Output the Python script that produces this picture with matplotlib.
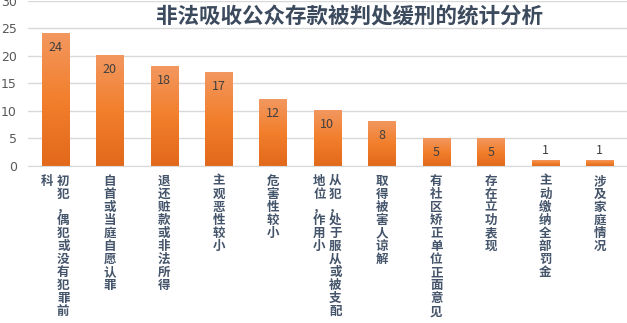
import numpy as np
import matplotlib
matplotlib.use("Agg")
import matplotlib.pyplot as plt
from matplotlib.colors import LinearSegmentedColormap

plt.rcParams["font.family"] = ["Noto Sans CJK SC", "DejaVu Sans"]

# data
categories = [
    "初犯，偶犯或没有犯罪前科",
    "自首或当庭自愿认罪",
    "退还赃款或非法所得",
    "主观恶性较小",
    "危害性较小",
    "从犯，处于服从或被支配地位，作用小",
    "取得被害人谅解",
    "有社区矫正单位正面意见",
    "存在立功表现",
    "主动缴纳全部罚金",
    "涉及家庭情况",
]
counts = [24, 20, 18, 17, 12, 10, 8, 5, 5, 1, 1]
yticks = [0, 5, 10, 15, 20, 25, 30]
title = "非法吸收公众存款被判处缓刑的统计分析"

TEXT = "#44546a"
GRID = "#d9d9d9"
COL_LEN = 11  # characters per vertical column

fig = plt.figure(figsize=(6.27, 3.23), dpi=100)
ax = fig.add_axes([0.0447, 0.486, 0.955, 0.512])

x = np.arange(len(categories))
bars = ax.bar(x, counts, width=0.5, color="none", edgecolor="none", zorder=2)

# vertical orange gradient inside each bar
cmap = LinearSegmentedColormap.from_list("og", ["#e2691b", "#f27f2c", "#f2975f"])
grad = np.linspace(0, 1, 64).reshape(-1, 1)
for b in bars:
    x0, w, h = b.get_x(), b.get_width(), b.get_height()
    ax.imshow(grad, cmap=cmap, origin="lower", aspect="auto",
              extent=(x0, x0 + w, 0, h), zorder=2, interpolation="bilinear")

# value labels: inside the top, or above when the bar is too short
for xi, v in zip(x, counts):
    dy = -10 if v >= 3 else 7
    ax.annotate(str(v), (xi, v), xytext=(0, dy), textcoords="offset points",
                ha="center", va="center", fontsize=9, color="#404040", zorder=3)

ax.set_xlim(-0.5, len(categories) - 0.5)
ax.set_ylim(0, 30)
ax.set_yticks(yticks)
ax.set_yticklabels([str(t) for t in yticks], fontsize=9, color="#595959",
                   family="DejaVu Sans")
ax.tick_params(axis="y", length=0, pad=8)
ax.set_xticks([])
ax.yaxis.grid(True, color=GRID, linewidth=1)
ax.set_axisbelow(True)
for s in ["top", "right", "left"]:
    ax.spines[s].set_visible(False)
ax.spines["bottom"].set_color(GRID)

# stacked vertical category labels, columns run right-to-left
step = 9.4
for xi, lab in zip(x, categories):
    cols = [lab[i:i + COL_LEN] for i in range(0, len(lab), COL_LEN)]
    n = len(cols)
    for c, col in enumerate(cols):
        dx = ((n - 1) / 2 - c) * 11.5
        for k, ch in enumerate(col):
            ax.annotate(ch, (xi, 0), xycoords=("data", "axes fraction"),
                        xytext=(dx, -11 - k * step), textcoords="offset points",
                        ha="center", va="center", fontsize=9, fontweight="bold",
                        color=TEXT, annotation_clip=False)

fig.text(0.558, 0.947, title, ha="center", va="center", fontsize=15.5,
         fontweight="bold", color="#3c4a5e")

fig.savefig("out.png", dpi=100, facecolor="white")
